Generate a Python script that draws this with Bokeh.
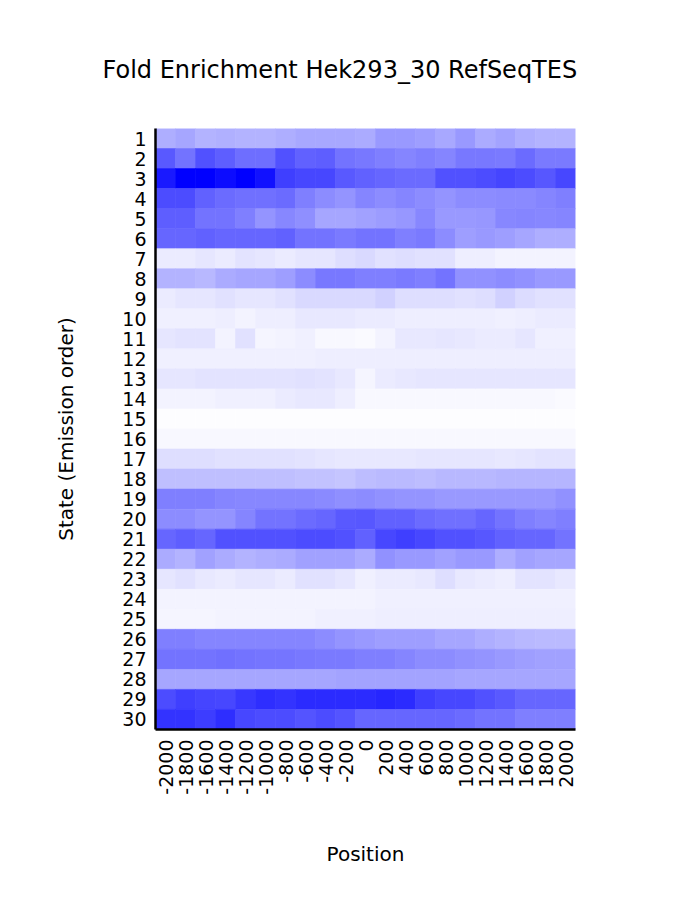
import math
from bokeh.plotting import figure
from bokeh.models import FactorRange, LinearColorMapper, ColumnDataSource
from bokeh.embed import file_html
from bokeh.resources import INLINE

positions = [str(v) for v in range(-2000, 2001, 200)]
states = [str(i) for i in range(1, 31)]

# relative fold enrichment (0 = white, 1 = full blue), rows = states 1..30, cols = positions
enrichment = [
    [0.32, 0.35, 0.30, 0.31, 0.30, 0.30, 0.32, 0.34, 0.34, 0.34, 0.33, 0.40, 0.40, 0.38, 0.34, 0.40, 0.33, 0.36, 0.32, 0.30, 0.30],
    [0.65, 0.55, 0.68, 0.63, 0.57, 0.57, 0.68, 0.62, 0.63, 0.55, 0.53, 0.50, 0.48, 0.50, 0.48, 0.53, 0.53, 0.52, 0.58, 0.52, 0.52],
    [0.90, 1.00, 1.00, 0.95, 1.00, 0.93, 0.75, 0.72, 0.72, 0.65, 0.62, 0.60, 0.58, 0.58, 0.68, 0.68, 0.70, 0.73, 0.70, 0.66, 0.72],
    [0.70, 0.70, 0.62, 0.58, 0.56, 0.56, 0.58, 0.50, 0.45, 0.42, 0.48, 0.45, 0.48, 0.45, 0.42, 0.45, 0.45, 0.46, 0.46, 0.48, 0.50],
    [0.63, 0.63, 0.55, 0.55, 0.50, 0.42, 0.47, 0.44, 0.35, 0.35, 0.37, 0.39, 0.41, 0.47, 0.40, 0.40, 0.41, 0.47, 0.48, 0.47, 0.48],
    [0.60, 0.60, 0.62, 0.60, 0.60, 0.60, 0.62, 0.55, 0.55, 0.52, 0.55, 0.55, 0.50, 0.52, 0.45, 0.38, 0.40, 0.38, 0.35, 0.32, 0.32],
    [0.08, 0.08, 0.10, 0.08, 0.11, 0.10, 0.08, 0.10, 0.10, 0.13, 0.15, 0.12, 0.13, 0.12, 0.12, 0.07, 0.07, 0.05, 0.05, 0.05, 0.05],
    [0.30, 0.30, 0.28, 0.33, 0.35, 0.35, 0.38, 0.45, 0.53, 0.53, 0.50, 0.50, 0.52, 0.50, 0.55, 0.43, 0.43, 0.45, 0.43, 0.40, 0.40],
    [0.08, 0.10, 0.10, 0.12, 0.10, 0.10, 0.12, 0.15, 0.15, 0.15, 0.15, 0.18, 0.13, 0.13, 0.13, 0.12, 0.13, 0.18, 0.14, 0.12, 0.12],
    [0.06, 0.06, 0.06, 0.07, 0.05, 0.07, 0.07, 0.09, 0.09, 0.09, 0.08, 0.08, 0.07, 0.07, 0.07, 0.07, 0.07, 0.06, 0.07, 0.08, 0.08],
    [0.10, 0.11, 0.11, 0.05, 0.12, 0.04, 0.05, 0.06, 0.03, 0.03, 0.02, 0.05, 0.09, 0.09, 0.10, 0.09, 0.08, 0.08, 0.10, 0.06, 0.06],
    [0.06, 0.06, 0.06, 0.06, 0.06, 0.06, 0.06, 0.06, 0.07, 0.07, 0.07, 0.07, 0.07, 0.07, 0.07, 0.07, 0.07, 0.07, 0.07, 0.07, 0.07],
    [0.10, 0.10, 0.11, 0.11, 0.11, 0.11, 0.11, 0.12, 0.11, 0.09, 0.04, 0.08, 0.09, 0.10, 0.10, 0.10, 0.10, 0.10, 0.10, 0.10, 0.10],
    [0.05, 0.05, 0.05, 0.06, 0.06, 0.06, 0.08, 0.09, 0.09, 0.07, 0.03, 0.03, 0.03, 0.03, 0.03, 0.03, 0.03, 0.03, 0.03, 0.03, 0.02],
    [0.01, 0.01, 0.01, 0.01, 0.01, 0.01, 0.01, 0.01, 0.01, 0.01, 0.01, 0.01, 0.01, 0.01, 0.01, 0.01, 0.01, 0.01, 0.01, 0.01, 0.01],
    [0.03, 0.03, 0.03, 0.03, 0.03, 0.03, 0.03, 0.03, 0.03, 0.03, 0.03, 0.03, 0.03, 0.03, 0.03, 0.03, 0.03, 0.03, 0.03, 0.03, 0.03],
    [0.13, 0.13, 0.13, 0.12, 0.12, 0.12, 0.12, 0.11, 0.10, 0.09, 0.09, 0.09, 0.09, 0.10, 0.10, 0.10, 0.10, 0.09, 0.10, 0.11, 0.11],
    [0.25, 0.25, 0.25, 0.25, 0.25, 0.25, 0.25, 0.24, 0.24, 0.23, 0.26, 0.27, 0.27, 0.26, 0.28, 0.28, 0.28, 0.29, 0.29, 0.29, 0.29],
    [0.50, 0.50, 0.50, 0.48, 0.47, 0.47, 0.47, 0.47, 0.46, 0.44, 0.45, 0.43, 0.42, 0.42, 0.40, 0.40, 0.40, 0.40, 0.40, 0.40, 0.43],
    [0.45, 0.45, 0.42, 0.42, 0.48, 0.55, 0.55, 0.58, 0.60, 0.65, 0.66, 0.62, 0.62, 0.58, 0.56, 0.56, 0.60, 0.55, 0.50, 0.48, 0.50],
    [0.60, 0.63, 0.60, 0.68, 0.68, 0.68, 0.68, 0.70, 0.70, 0.68, 0.62, 0.72, 0.75, 0.72, 0.68, 0.68, 0.66, 0.62, 0.60, 0.60, 0.55],
    [0.33, 0.30, 0.37, 0.33, 0.30, 0.32, 0.33, 0.37, 0.37, 0.37, 0.33, 0.43, 0.40, 0.40, 0.37, 0.40, 0.40, 0.32, 0.37, 0.35, 0.35],
    [0.10, 0.12, 0.09, 0.08, 0.10, 0.10, 0.08, 0.12, 0.12, 0.10, 0.06, 0.08, 0.08, 0.09, 0.13, 0.09, 0.08, 0.07, 0.11, 0.11, 0.09],
    [0.05, 0.05, 0.05, 0.05, 0.05, 0.05, 0.05, 0.05, 0.05, 0.05, 0.05, 0.06, 0.06, 0.06, 0.06, 0.06, 0.06, 0.06, 0.06, 0.06, 0.06],
    [0.04, 0.04, 0.04, 0.05, 0.05, 0.05, 0.05, 0.05, 0.06, 0.06, 0.06, 0.07, 0.07, 0.07, 0.07, 0.07, 0.07, 0.07, 0.07, 0.07, 0.07],
    [0.50, 0.50, 0.48, 0.48, 0.48, 0.48, 0.48, 0.48, 0.45, 0.42, 0.40, 0.38, 0.38, 0.38, 0.35, 0.35, 0.32, 0.30, 0.28, 0.27, 0.27],
    [0.55, 0.55, 0.55, 0.56, 0.55, 0.54, 0.54, 0.53, 0.52, 0.52, 0.50, 0.50, 0.48, 0.45, 0.45, 0.43, 0.42, 0.40, 0.38, 0.37, 0.37],
    [0.35, 0.35, 0.35, 0.35, 0.35, 0.35, 0.35, 0.35, 0.35, 0.36, 0.36, 0.36, 0.36, 0.36, 0.36, 0.35, 0.35, 0.35, 0.35, 0.35, 0.35],
    [0.70, 0.75, 0.73, 0.72, 0.78, 0.82, 0.80, 0.83, 0.83, 0.83, 0.83, 0.85, 0.83, 0.75, 0.72, 0.72, 0.68, 0.65, 0.60, 0.60, 0.60],
    [0.80, 0.80, 0.76, 0.82, 0.72, 0.70, 0.70, 0.67, 0.70, 0.67, 0.60, 0.60, 0.60, 0.60, 0.60, 0.58, 0.55, 0.55, 0.50, 0.50, 0.50],
]

xs, ys, vals = [], [], []
for si, row in enumerate(enrichment):
    for pi_, v in enumerate(row):
        xs.append(positions[pi_])
        ys.append(states[si])
        vals.append(v)
source = ColumnDataSource(dict(x=xs, y=ys, v=vals))

palette = ["#%02x%02xff" % (255 - i, 255 - i) for i in range(256)]
mapper = LinearColorMapper(palette=palette, low=0.0, high=1.0)

FONT = "DejaVu Sans"

p = figure(
    width=675, height=917,
    x_range=FactorRange(factors=positions),
    y_range=FactorRange(factors=list(reversed(states))),
    output_backend="svg", toolbar_location=None,
    min_border_left=155, min_border_right=100, min_border_top=128, min_border_bottom=188,
    frame_width=420, frame_height=601,
)
p.rect(x="x", y="y", width=1, height=1, source=source,
       fill_color={"field": "v", "transform": mapper},
       line_color={"field": "v", "transform": mapper}, line_width=0.6)

p.title.text = "Fold Enrichment Hek293_30 RefSeqTES"
p.title.align = "left"
p.title.text_font = FONT
p.title.text_font_size = "24px"
p.title.text_font_style = "normal"
p.title.text_color = "black"
p.title.offset = -53
p.title.standoff = 90

p.outline_line_color = None
p.grid.grid_line_color = None
for ax in (p.xaxis[0], p.yaxis[0]):
    ax.major_tick_line_color = None
    ax.minor_tick_line_color = None
    ax.axis_line_color = "black"
    ax.axis_line_width = 2.5
    ax.major_label_text_font = FONT
    ax.major_label_text_font_size = "19px"
    ax.major_label_text_color = "black"
    ax.axis_label_text_font = FONT
    ax.axis_label_text_font_size = "20px"
    ax.axis_label_text_font_style = "normal"
    ax.axis_label_text_color = "black"

p.xaxis.axis_label = "Position"
p.xaxis.major_label_orientation = math.pi / 2
p.xaxis.major_label_standoff = 4
p.xaxis.axis_label_standoff = 44
p.yaxis.axis_label = "State (Emission order)"
p.yaxis.major_label_standoff = 3
p.yaxis.axis_label_standoff = 41
p.x_range.range_padding = 0
p.y_range.range_padding = 0

open("out.html", "w").write(file_html(p, INLINE))
